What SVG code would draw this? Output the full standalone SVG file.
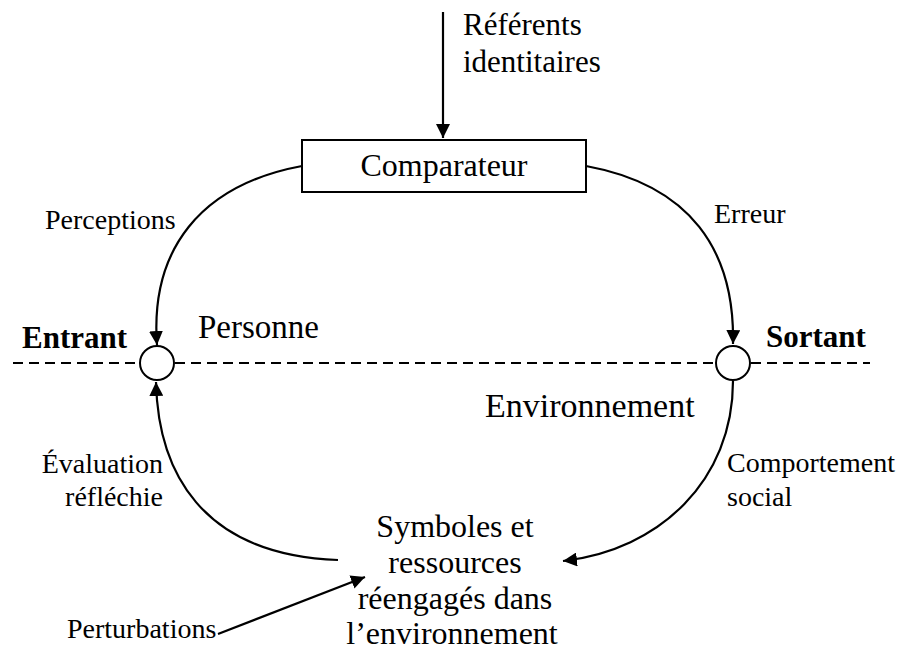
<svg xmlns="http://www.w3.org/2000/svg" width="897" height="652" viewBox="0 0 897 652">
  <style>
    text { font-family: "Liberation Serif", "Times New Roman", serif; fill: #000; }
    .lbl { font-size: 28px; }
    .big { font-size: 32px; }
    .bold { font-size: 31px; font-weight: bold; }
    .link { fill: none; stroke: #000; stroke-width: 2.2; }
    .dash { fill: none; stroke: #000; stroke-width: 2; stroke-dasharray: 10 6; }
    .port { fill: #fff; stroke: #000; stroke-width: 2; }
  </style>
  <defs>
    <marker id="head" viewBox="0 0 14 14" refX="14" refY="7" markerWidth="14" markerHeight="14" markerUnits="userSpaceOnUse" orient="auto">
      <path d="M0,0 L14,7 L0,14 z" fill="#000"/>
    </marker>
  </defs>

  <!-- boundary between person and environment -->
  <g id="boundary">
    <line class="dash" x1="13" y1="363" x2="140" y2="363"/>
    <line class="dash" x1="175" y1="363" x2="715" y2="363"/>
    <line class="dash" x1="751" y1="363" x2="870" y2="363"/>
  </g>

  <g id="connectors">
    <line class="link" x1="443" y1="12" x2="443" y2="138" marker-end="url(#head)"/>
    <path class="link" d="M302,166 C 200,185 150,250 157,345" marker-end="url(#head)"/>
    <path class="link" d="M586,166 C 690,185 735,250 733,344" marker-end="url(#head)"/>
    <path class="link" d="M338,560 C 200,555 158,470 156,382" marker-end="url(#head)"/>
    <path class="link" d="M733,381 C 733,480 660,550 563,561" marker-end="url(#head)"/>
    <line class="link" x1="218" y1="634" x2="365" y2="577" marker-end="url(#head)"/>
  </g>

  <g id="referents">
    <text x="463" y="35" font-size="31">Référents</text>
    <text x="463" y="72" font-size="31">identitaires</text>
  </g>

  <g id="comparateur">
    <rect x="302" y="140" width="284" height="52" fill="#fff" stroke="#000" stroke-width="2"/>
    <text class="big" x="444" y="176" text-anchor="middle">Comparateur</text>
  </g>

  <g id="entrant">
    <circle class="port" cx="157" cy="363" r="17"/>
    <text class="bold" x="22" y="348">Entrant</text>
  </g>

  <g id="sortant">
    <circle class="port" cx="733" cy="363" r="17"/>
    <text class="bold" x="766" y="347">Sortant</text>
  </g>

  <g id="regions">
    <text x="198" y="338" font-size="33">Personne</text>
    <text x="485" y="417" font-size="34">Environnement</text>
  </g>

  <g id="labels">
    <text class="lbl" x="45" y="229">Perceptions</text>
    <text class="lbl" x="714" y="223">Erreur</text>
    <text class="lbl" x="163" y="473" text-anchor="end">Évaluation</text>
    <text class="lbl" x="163" y="506" text-anchor="end">réfléchie</text>
    <text class="lbl" x="727" y="472">Comportement</text>
    <text class="lbl" x="727" y="506">social</text>
    <text class="lbl" x="67" y="638">Perturbations</text>
  </g>

  <g id="symboles">
    <text class="big" x="455" y="537" text-anchor="middle">Symboles et</text>
    <text class="big" x="455" y="573" text-anchor="middle">ressources</text>
    <text class="big" x="455" y="609" text-anchor="middle">réengagés dans</text>
    <text class="big" x="452" y="644" text-anchor="middle">l’environnement</text>
  </g>
</svg>
